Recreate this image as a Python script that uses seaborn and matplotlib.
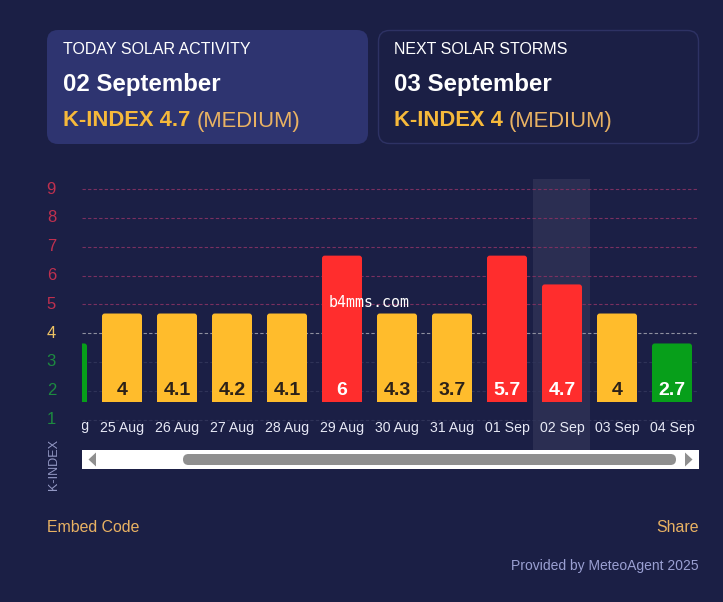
"""Solar activity K-index widget: two summary cards above a scrolled bar chart."""

import matplotlib

matplotlib.use("Agg")
import matplotlib.pyplot as plt
import pandas as pd
import seaborn as sns
from matplotlib.patches import FancyBboxPatch, Polygon, Rectangle
from matplotlib.transforms import ScaledTranslation

# --- DATA ---
dates = ["24 Aug", "25 Aug", "26 Aug", "27 Aug", "28 Aug", "29 Aug",
         "30 Aug", "31 Aug", "01 Sep", "02 Sep", "03 Sep", "04 Sep"]
# bar tops on the y axis are stepped, the printed value is separate
bar_tops = [3.64, 4.68, 4.68, 4.68, 4.68, 6.69, 4.68, 4.68, 6.69, 5.69, 4.68, 3.64]
bar_labels = ["", "4", "4.1", "4.2", "4.1", "6", "4.3", "3.7", "5.7", "4.7", "4", "2.7"]
levels = ["low", "medium", "medium", "medium", "medium", "high",
          "medium", "medium", "high", "high", "medium", "low"]
bar_floor = 1.625
y_values = [1, 2, 3, 4, 5, 6, 7, 8, 9]
highlight_date = "02 Sep"

BG = "#1b1f45"
CARD = "#2e3470"
ORANGE = "#f6b93b"
ORANGE_SOFT = "#e9b263"
TICK = "#e6e8f5"
palette = {"low": "#079f1a", "medium": "#ffbc2c", "high": "#ff2d2d"}
label_colors = {"low": "white", "medium": "#2c2118", "high": "white"}
y_label_colors = {1: "#1d8a40", 2: "#1d8a40", 3: "#1d8a40", 4: "#f0c464", 5: "#c0304f",
                  6: "#c0304f", 7: "#c0304f", 8: "#c0304f", 9: "#c0304f"}
grid_colors = {1: "#2f3358", 2: "#2f3358", 3: "#2f3358", 4: "#8f90a0", 5: "#7a3060",
               6: "#7a3060", 7: "#7a3060", 8: "#7a3060", 9: "#7a3060"}

sns.set_theme(style="dark")
plt.rcParams["font.family"] = ["Liberation Sans", "DejaVu Sans"]

W, H = 723, 602
fig = plt.figure(figsize=(W / 100, H / 100), dpi=100, facecolor=BG)

# Background layer in pixel coordinates for the cards and the scrollbar
bg = fig.add_axes([0, 0, 1, 1], zorder=0)
bg.set_xlim(0, W)
bg.set_ylim(H, 0)
bg.axis("off")

bg.add_patch(FancyBboxPatch((47, 30), 321, 114, boxstyle="round,pad=0,rounding_size=11",
                            facecolor=CARD, edgecolor="none"))
bg.add_patch(FancyBboxPatch((378.5, 30.5), 320, 113, boxstyle="round,pad=0,rounding_size=11",
                            facecolor="none", edgecolor="#2e3264", linewidth=1))

bg.text(63, 50, "TODAY SOLAR ACTIVITY", color="white", fontsize=11.5, va="center")
bg.text(63, 84.5, "02 September", color="white", fontsize=17.3, fontweight="bold", va="center")
bg.text(63, 121, "K-INDEX 4.7", color=ORANGE, fontsize=15.8, fontweight="bold", va="center")
bg.text(197, 121, "(MEDIUM)", color=ORANGE_SOFT, fontsize=15.8, va="center")

bg.text(394, 50, "NEXT SOLAR STORMS", color="white", fontsize=11.5, va="center")
bg.text(394, 84.5, "03 September", color="white", fontsize=17.3, fontweight="bold", va="center")
bg.text(394, 121, "K-INDEX 4", color=ORANGE, fontsize=15.8, fontweight="bold", va="center")
bg.text(509, 121, "(MEDIUM)", color=ORANGE_SOFT, fontsize=15.8, va="center")

# Scrollbar
bg.add_patch(Rectangle((82, 450), 617, 19, facecolor="white", edgecolor="none"))
bg.add_patch(FancyBboxPatch((183, 454), 493, 11, boxstyle="round,pad=0,rounding_size=5.5",
                            facecolor="#8f8f8f", edgecolor="none"))
bg.add_patch(Polygon([(96, 452.5), (96, 466.5), (88.5, 459.5)], facecolor="#8f8f8f", edgecolor="none"))
bg.add_patch(Polygon([(685, 452.5), (685, 466.5), (692.5, 459.5)], facecolor="#8f8f8f", edgecolor="none"))

bg.text(47, 528, "Embed Code", color=ORANGE_SOFT, fontsize=11.4, va="center")
bg.text(699, 528, "Share", color=ORANGE_SOFT, fontsize=11.4, va="center", ha="right")
bg.text(699, 566, "Provided by MeteoAgent 2025", color="#9a9fd2", fontsize=10, va="center", ha="right")

# Chart layer
ax = fig.add_axes([82 / W, (H - 450) / H, 617 / W, 271 / H], zorder=1)
ax.patch.set_alpha(0)

df = pd.DataFrame({"date": dates, "top": bar_tops, "level": levels})
sns.barplot(data=df, x="date", y="top", hue="level", palette=palette, dodge=False, saturation=1,
            width=0.727, legend=False, ax=ax, zorder=3, linewidth=0)

for val in y_values:
    ax.axhline(val, color=grid_colors[val], linewidth=0.8, linestyle=(0, (3, 2)), zorder=2)

hi = dates.index(highlight_date)
ax.axvspan(hi - 0.52, hi + 0.5, facecolor="white", alpha=0.07, edgecolor="none", zorder=1)

# Bars start above the axis floor and have slightly rounded tops
aspect = 55 / 28.8
for patch in list(ax.patches):
    if patch.get_height() <= 0 or patch.get_width() > 0.9:
        continue
    x0, w, top = patch.get_x(), patch.get_width(), patch.get_height()
    color = patch.get_facecolor()
    patch.set_y(bar_floor)
    patch.set_height(top - bar_floor - 0.3)
    ax.add_patch(FancyBboxPatch((x0, top - 1.0), w, 1.0,
                                boxstyle="round,pad=0,rounding_size=0.05",
                                mutation_aspect=aspect, facecolor=color,
                                edgecolor="none", zorder=3))

for i, (text, level) in enumerate(zip(bar_labels, levels)):
    if text:
        ax.text(i, 2.02, text, color=label_colors[level], fontsize=14, fontweight="bold",
                ha="center", va="center", zorder=4)

ax.set_xlim((82 - 67) / 55, (699 - 67) / 55)
ax.set_ylim(1 - 30.5 / 28.8, 1 + 240.5 / 28.8)

ax.set_xticks(range(1, len(dates)), dates[1:])
ax.tick_params(axis="x", length=0, pad=-21, labelsize=10.2, labelcolor=TICK)
# the first date is scrolled out of view, only its tail shows
ax.text(0, 0.757, dates[0], color=TICK, fontsize=10.2, ha="center", va="center", clip_on=True)

ax.set_yticks(y_values, [str(v) for v in y_values])
ax.tick_params(axis="y", length=0, pad=18.7, labelsize=12)
shift_up = ScaledTranslation(0, 1.5 / 100, fig.dpi_scale_trans)
for lab, val in zip(ax.get_yticklabels(), y_values):
    lab.set_color(y_label_colors[val])
    lab.set_transform(lab.get_transform() + shift_up)

ax.set_xlabel("")
ax.set_ylabel("K-INDEX", color="#9398c4", fontsize=9.1)
ax.yaxis.set_label_coords(-0.0356, -0.054)
ax.grid(False)
sns.despine(ax=ax, left=True, bottom=True)

ax.text(369.5, 302.5, "b4mms.com", color="white", fontsize=10.8, family="DejaVu Sans Mono",
        ha="center", va="center", zorder=6, transform=bg.transData)

fig.savefig("out.png", dpi=100, facecolor=BG)
